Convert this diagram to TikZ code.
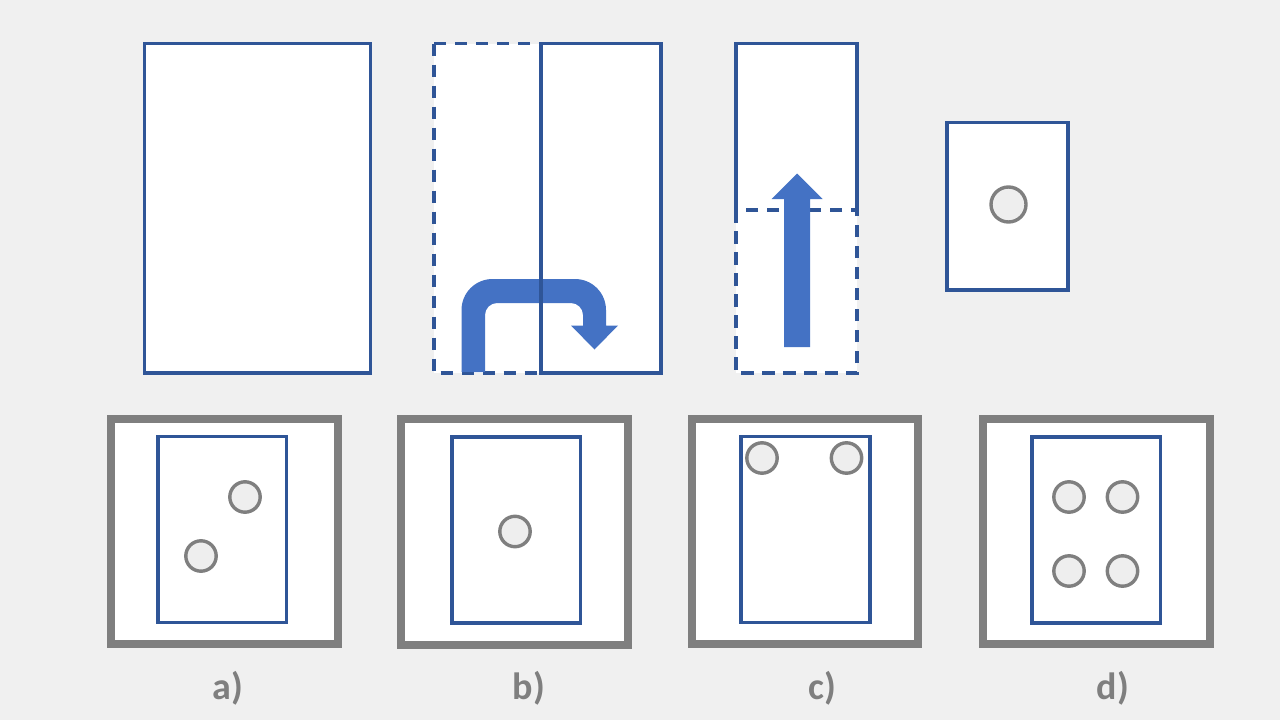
\documentclass[tikz,border=0pt]{standalone}
\usepackage{fontspec}
\setmainfont{Carlito}
\definecolor{edge}{HTML}{2F5597}
\definecolor{arrowblue}{HTML}{4472C4}
\definecolor{frame}{HTML}{7F7F7F}
\definecolor{bg}{HTML}{F0F0F0}
\definecolor{hole}{HTML}{EEEEEE}
\begin{document}
\begin{tikzpicture}[x=1pt,y=-1pt,
  sheet/.style={draw=edge,fill=white,line width=3.2pt},
  fold/.style={sheet,dash pattern=on 12.5pt off 8.5pt},
  punch/.style={draw=frame,fill=hole,line width=3.4pt},
  choice/.style={draw=frame,fill=white,line width=8pt},
  tag/.style={text=frame,font=\fontsize{38}{44}\selectfont\bfseries}]
  \fill[bg] (0,0) rectangle (1280,720);
  \useasboundingbox (0,0) rectangle (1280,720);
  % step 1: the whole sheet
  \draw[sheet] (144.5,43.5) rectangle (370.5,373);
  % step 2: left half folded over
  \draw[fold] (434,43.5) rectangle (541,373);
  \draw[sheet] (541,43.5) rectangle (661,373);
  \fill[arrowblue] (485,372) -- (461.5,372) [rounded corners=31pt] -- (461.5,279) -- (606,279) [sharp corners]
    -- (606,325.5) -- (618,325.5) -- (594.5,349.5) -- (571,325.5) -- (583,325.5)
    [rounded corners=12pt] -- (583,303) -- (485,303) [sharp corners] -- (485,372) -- cycle;
  \draw[edge,line width=3.2pt] (541,43.5) -- (541,373);
  % step 3: bottom folded up
  \draw[sheet] (736,210) -- (736,43.5) -- (857,43.5) -- (857,210);
  \draw[fold] (736,210) rectangle (857,373);
  \fill[arrowblue] (784,347) -- (784,199) -- (771.5,199) -- (797,173.5) -- (822.5,199) -- (810,199) -- (810,347) -- cycle;
  % step 4: punched
  \draw[sheet] (947,122.5) rectangle (1068,290);
  \draw[punch] (1008.5,204.5) circle (17.5);
  % answers
  \draw[choice] (111,419) rectangle (338,644);
  \draw[sheet] (158,436.5) rectangle (286.5,622.5);
  \draw[punch] (245,497) circle (15.2);
  \draw[punch] (201,556) circle (15.2);
  \node[tag] (la) at (228,688) {a)};
  \draw[choice] (401,419) rectangle (628,645);
  \draw[sheet] (452,437) rectangle (580.5,623);
  \draw[punch] (515,531.5) circle (15.2);
  \node[tag] (lb) at (529,688) {b)};
  \draw[choice] (692,419) rectangle (918,644);
  \draw[sheet] (741,436.5) rectangle (870,622.5);
  \foreach \cx in {762,846.5} \draw[punch] (\cx,458) circle (15.2);
  \node[tag] (lc) at (822,688) {c)};
  \draw[choice] (983,419) rectangle (1210,644);
  \draw[sheet] (1032,437) rectangle (1160.5,623);
  \foreach \cx in {1069,1122.5} \foreach \cy in {497,571} \draw[punch] (\cx,\cy) circle (15.2);
  \node[tag] (ld) at (1113,688) {d)};
\end{tikzpicture}
\end{document}
